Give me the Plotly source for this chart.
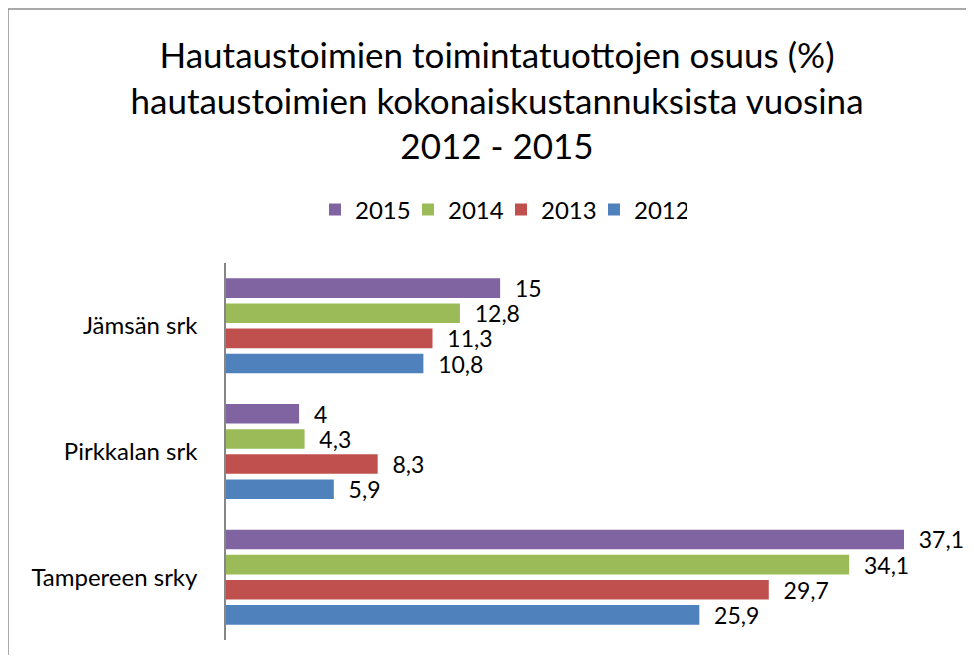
import plotly.graph_objects as go

categories = ["Tampereen srky", "Pirkkalan srk", "Jämsän srk"]
years = ["2012", "2013", "2014", "2015"]
values = {
    "2012": [25.9, 5.9, 10.8],
    "2013": [29.7, 8.3, 11.3],
    "2014": [34.1, 4.3, 12.8],
    "2015": [37.1, 4.0, 15.0],
}
colors = {"2012": "#4F81BD", "2013": "#C0504D", "2014": "#9BBB59", "2015": "#8064A2"}

OFF = 8  # page body margin offset
W, H = 974 - 2 * OFF, 663 - 2 * OFF
# plot area in page pixels
PL, PR, PT, PB = 226, 957, 263, 640
L = PL - OFF
T = PT - OFF
R = W - (PR - OFF)
B = H - (PB - OFF)
pw, ph = PR - PL, PB - PT

def fmt(v):
    s = ("%g" % v).replace(".", ",")
    return "\u00a0\u00a0" + s

fig = go.Figure()
for y in years:
    fig.add_trace(go.Bar(
        name=y, y=categories, x=values[y], orientation="h",
        marker=dict(color=colors[y], line=dict(width=0)),
        text=[fmt(v) for v in values[y]], textposition="outside",
        constraintext="none",
        textfont=dict(size=23, color="black", family="Lato"),
        cliponaxis=False,
    ))

def px2x(p):
    return (p - PL) / pw

def py2y(p):
    return (PB - p) / ph

fig.update_layout(
    width=W, height=H,
    margin=dict(l=L, r=R, t=T, b=B, autoexpand=False),
    paper_bgcolor="white", plot_bgcolor="white",
    font=dict(family="Lato", size=24, color="black"),
    barmode="group", bargap=0.2, bargroupgap=0.22,
    title=dict(
        text="Hautaustoimien toimintatuottojen osuus (%)<br>hautaustoimien kokonaiskustannuksista vuosina<br>2012 - 2015",
        x=(497 - OFF) / W, xref="container", xanchor="center",
        y=1 - 60 / H, yref="container", yanchor="top",
        font=dict(family="Lato", size=35, color="black"),
    ),
    legend=dict(
        orientation="h", traceorder="reversed",
        x=px2x(501), xanchor="center", y=py2y(210), yanchor="middle",
        font=dict(size=24), bgcolor="rgba(0,0,0,0)",
        entrywidth=48, entrywidthmode="pixels",
    ),
    xaxis=dict(range=[0, 40], visible=False, showgrid=False, zeroline=False),
    yaxis=dict(
        showline=True, linecolor="#868686", linewidth=1.5,
        ticks="", showgrid=False, ticklabelstandoff=22, automargin=False,
        tickfont=dict(size=24, color="black"),
    ),
    shapes=[
        dict(type="line", xref="paper", yref="paper",
             x0=px2x(8), x1=px2x(8), y0=py2y(9), y1=py2y(690),
             line=dict(color="#8c8c8c", width=1.5)),
        dict(type="line", xref="paper", yref="paper",
             x0=px2x(8), x1=px2x(1000), y0=py2y(9), y1=py2y(9),
             line=dict(color="#8c8c8c", width=1.5)),
    ],
    showlegend=True,
)

fig.write_html("out.html")
